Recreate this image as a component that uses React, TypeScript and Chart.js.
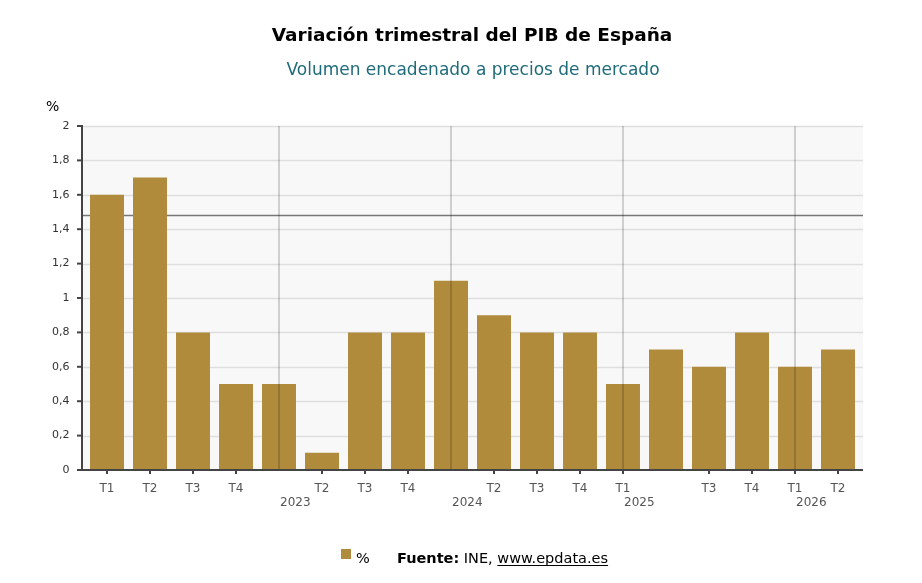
import React, { useEffect, useRef } from "react";
import { Chart, registerables } from "chart.js";

Chart.register(...registerables);

const categories = ["T1", "T2", "T3", "T4", "", "T2", "T3", "T4", "", "T2", "T3", "T4", "T1", "", "T3", "T4", "T1", "T2"];
const values = [1.6, 1.7, 0.8, 0.5, 0.5, 0.1, 0.8, 0.8, 1.1, 0.9, 0.8, 0.8, 0.5, 0.7, 0.6, 0.8, 0.6, 0.7];
const yearIndices = [4, 8, 12, 16];
const yearLabels = ["2023", "2024", "2025", "2026"];
const averageValue = 1.48;
const yTicks = [0, 0.2, 0.4, 0.6, 0.8, 1, 1.2, 1.4, 1.6, 1.8, 2];

const TITLE = "Variación trimestral del PIB de España";
const SUBTITLE = "Volumen encadenado a precios de mercado";
const FONT = "'DejaVu Sans', sans-serif";
const BAR_COLOR = "#B08B3C";
const EXTRA = 3.5;

const decorPlugin = {
  id: "decor",
  beforeDatasetsDraw(chart: any) {
    const { ctx, chartArea, scales } = chart;
    const y = scales.y;
    const l = chartArea.left - EXTRA;
    const r = chartArea.right + EXTRA;
    ctx.save();
    ctx.fillStyle = "#f8f8f8";
    ctx.fillRect(l, chartArea.top, r - l, chartArea.bottom - chartArea.top);
    ctx.strokeStyle = "#dedede";
    ctx.lineWidth = 1.5;
    yTicks.forEach((v) => {
      if (v === 0) return;
      const py = Math.round(y.getPixelForValue(v)) + 0.5;
      ctx.beginPath();
      ctx.moveTo(l, py);
      ctx.lineTo(r, py);
      ctx.stroke();
    });
    const ay = y.getPixelForValue(averageValue);
    ctx.strokeStyle = "#777";
    ctx.lineWidth = 1.5;
    ctx.beginPath();
    ctx.moveTo(l, ay);
    ctx.lineTo(r, ay);
    ctx.stroke();
    ctx.restore();
  },
  afterDatasetsDraw(chart: any) {
    const { ctx, chartArea, scales } = chart;
    const x = scales.x;
    const y = scales.y;
    const l = chartArea.left - EXTRA;
    const r = chartArea.right + EXTRA;
    ctx.save();
    ctx.strokeStyle = "rgba(0,0,0,0.22)";
    ctx.lineWidth = 1.5;
    yearIndices.forEach((i) => {
      const px = x.getPixelForValue(i);
      ctx.beginPath();
      ctx.moveTo(px, chartArea.top);
      ctx.lineTo(px, chartArea.bottom);
      ctx.stroke();
    });
    ctx.strokeStyle = "#444";
    ctx.lineWidth = 2;
    ctx.beginPath();
    ctx.moveTo(l, chartArea.top - 1);
    ctx.lineTo(l, chartArea.bottom + 1);
    ctx.stroke();
    ctx.beginPath();
    ctx.moveTo(l - 5, chartArea.bottom);
    ctx.lineTo(r, chartArea.bottom);
    ctx.stroke();
    yTicks.forEach((v) => {
      const py = y.getPixelForValue(v);
      ctx.beginPath();
      ctx.moveTo(l - 5, py);
      ctx.lineTo(l, py);
      ctx.stroke();
    });
    categories.forEach((c, i) => {
      if (!c) return;
      const px = x.getPixelForValue(i);
      ctx.beginPath();
      ctx.moveTo(px, chartArea.bottom);
      ctx.lineTo(px, chartArea.bottom + 4);
      ctx.stroke();
    });
    ctx.fillStyle = "#555";
    ctx.font = `12px ${FONT}`;
    ctx.textAlign = "center";
    ctx.textBaseline = "middle";
    yearIndices.forEach((i, k) => {
      const p0 = x.getPixelForValue(i);
      const p1 = x.getPixelForValue(i + 1);
      ctx.fillText(yearLabels[k], p0 + (p1 - p0) * 0.38, chartArea.bottom + 33);
    });
    ctx.restore();
  },
  afterDraw(chart: any) {
    const { ctx } = chart;
    ctx.save();
    ctx.textBaseline = "middle";
    ctx.textAlign = "center";
    ctx.fillStyle = "#000";
    ctx.font = `bold 18.5px ${FONT}`;
    ctx.fillText(TITLE, 472, 36);
    ctx.fillStyle = "#1f6b7a";
    ctx.font = `17px ${FONT}`;
    ctx.fillText(SUBTITLE, 473, 71);
    ctx.fillStyle = "#000";
    ctx.font = `14px ${FONT}`;
    ctx.textAlign = "left";
    ctx.fillText("%", 46, 107);
    ctx.fillStyle = BAR_COLOR;
    ctx.fillRect(341, 549, 10, 10);
    ctx.fillStyle = "#000";
    ctx.font = `14.5px ${FONT}`;
    ctx.textBaseline = "alphabetic";
    ctx.fillText("%", 356, 563);
    ctx.font = `bold 14.5px ${FONT}`;
    const f = "Fuente:";
    ctx.fillText(f, 397, 563);
    let cx = 397 + ctx.measureText(f).width;
    ctx.font = `14.5px ${FONT}`;
    const ine = " INE, ";
    ctx.fillText(ine, cx, 563);
    cx += ctx.measureText(ine).width;
    const url = "www.epdata.es";
    ctx.fillText(url, cx, 563);
    const uw = ctx.measureText(url).width;
    ctx.fillRect(cx, 565, uw, 1);
    ctx.restore();
  },
};

export default function App() {
  const ref = useRef<HTMLCanvasElement | null>(null);
  useEffect(() => {
    if (!ref.current) return;
    const chart = new Chart(ref.current, {
      type: "bar",
      data: {
        labels: categories,
        datasets: [
          {
            label: "%",
            data: values,
            backgroundColor: BAR_COLOR,
            borderWidth: 0,
            barPercentage: 0.79,
            categoryPercentage: 1,
          },
        ],
      },
      options: {
        responsive: false,
        animation: false,
        layout: { padding: { left: 0, top: 126, right: 62.5, bottom: 0 } },
        plugins: { legend: { display: false }, tooltip: { enabled: false }, title: { display: false } },
        scales: {
          x: {
            grid: { display: false, drawTicks: false },
            border: { display: false },
            ticks: { autoSkip: false, maxRotation: 0, font: { family: FONT, size: 12 }, color: "#555", padding: 12 },
            afterFit: (s: any) => {
              s.height = 113;
            },
          },
          y: {
            min: 0,
            max: 2,
            grid: { display: false, drawTicks: false },
            border: { display: false },
            ticks: {
              stepSize: 0.2,
              font: { family: FONT, size: 11 },
              color: "#333",
              padding: 16,
              callback: (v: any) => String(Math.round(Number(v) * 10) / 10).replace(".", ","),
            },
            afterFit: (s: any) => {
              s.width = 85.5;
            },
          },
        },
      },
      plugins: [decorPlugin],
    });
    return () => chart.destroy();
  }, []);
  return (
    <div style={{ position: "fixed", left: 0, top: 0, width: 922, height: 583, background: "#fff" }}>
      <canvas ref={ref} width={922} height={583} style={{ width: 922, height: 583 }} />
    </div>
  );
}
